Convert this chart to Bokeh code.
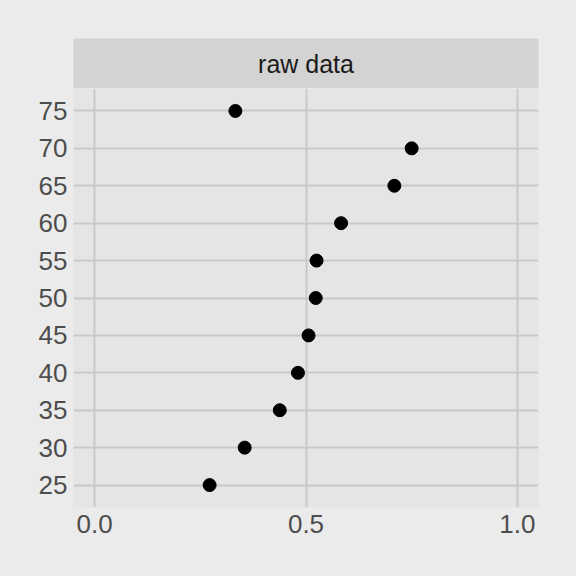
from bokeh.plotting import figure
from bokeh.layouts import column
from bokeh.models import FixedTicker, Range1d
from bokeh.core.properties import value
from bokeh.embed import file_html
from bokeh.resources import INLINE

# ---- data ----
ages = [25, 30, 35, 40, 45, 50, 55, 60, 65, 70, 75]
proportion = [0.272, 0.355, 0.438, 0.481, 0.506, 0.523, 0.525, 0.583, 0.709, 0.750, 0.333]
x_ticks = [0.0, 0.5, 1.0]
x_tick_labels = ["0.0", "0.5", "1.0"]
y_ticks = [25, 30, 35, 40, 45, 50, 55, 60, 65, 70, 75]
facet_label = "raw data"

# ---- style ----
OUTER = "#EBEBEB"
PANEL = "#E5E5E5"
STRIP = "#D3D3D3"
GRID = "#C9C9C9"
FONT = "Liberation Sans"

W = 560
LEFT, RIGHT = 65, 30

# strip (facet label)
strip = figure(width=W, height=80, min_border_left=LEFT, min_border_right=RIGHT,
               min_border_top=30, min_border_bottom=0,
               x_range=Range1d(0, 1), y_range=Range1d(0, 1),
               x_axis_type=None, y_axis_type=None,
               toolbar_location=None, output_backend="svg")
strip.background_fill_color = STRIP
strip.border_fill_color = OUTER
strip.outline_line_color = None
strip.grid.visible = False
strip.text(x=[0.5], y=[0.5], text=[facet_label], text_align="center",
           text_baseline="middle", text_font=value(FONT),
           text_font_size="25px", text_color="#1A1A1A")

# main panel
p = figure(width=W, height=480, min_border_left=LEFT, min_border_right=RIGHT,
           min_border_top=0, min_border_bottom=61,
           x_range=Range1d(-0.05, 1.05), y_range=Range1d(22, 78),
           toolbar_location=None, output_backend="svg")
p.background_fill_color = PANEL
p.border_fill_color = OUTER
p.outline_line_color = None

p.scatter(x=proportion, y=ages, size=13, color="black")

p.xaxis.ticker = FixedTicker(ticks=x_ticks)
p.xaxis.major_label_overrides = {t: l for t, l in zip(x_ticks, x_tick_labels)}
p.yaxis.ticker = FixedTicker(ticks=y_ticks)
for ax in (p.xaxis, p.yaxis):
    ax.axis_line_color = None
    ax.major_tick_line_color = None
    ax.minor_tick_line_color = None
    ax.major_tick_out = 0
    ax.major_tick_in = 0
    ax.major_label_text_font = FONT
    ax.major_label_text_font_size = "26px"
    ax.major_label_text_color = "#4D4D4D"
p.xaxis.major_label_standoff = 7
p.yaxis.major_label_standoff = 6

p.xgrid.ticker = FixedTicker(ticks=x_ticks)
p.ygrid.ticker = FixedTicker(ticks=y_ticks)
for g in (p.xgrid, p.ygrid):
    g.grid_line_color = GRID
    g.grid_line_width = 2
    g.minor_grid_line_color = None

layout = column(strip, p, spacing=0)

html = file_html(layout, INLINE)
html = html.replace(
    "<head>",
    "<head><style>html{background:#EBEBEB;} body{background:#EBEBEB;margin:8px !important;padding:0 !important;}</style>",
    1)
open("out.html", "w").write(html)
